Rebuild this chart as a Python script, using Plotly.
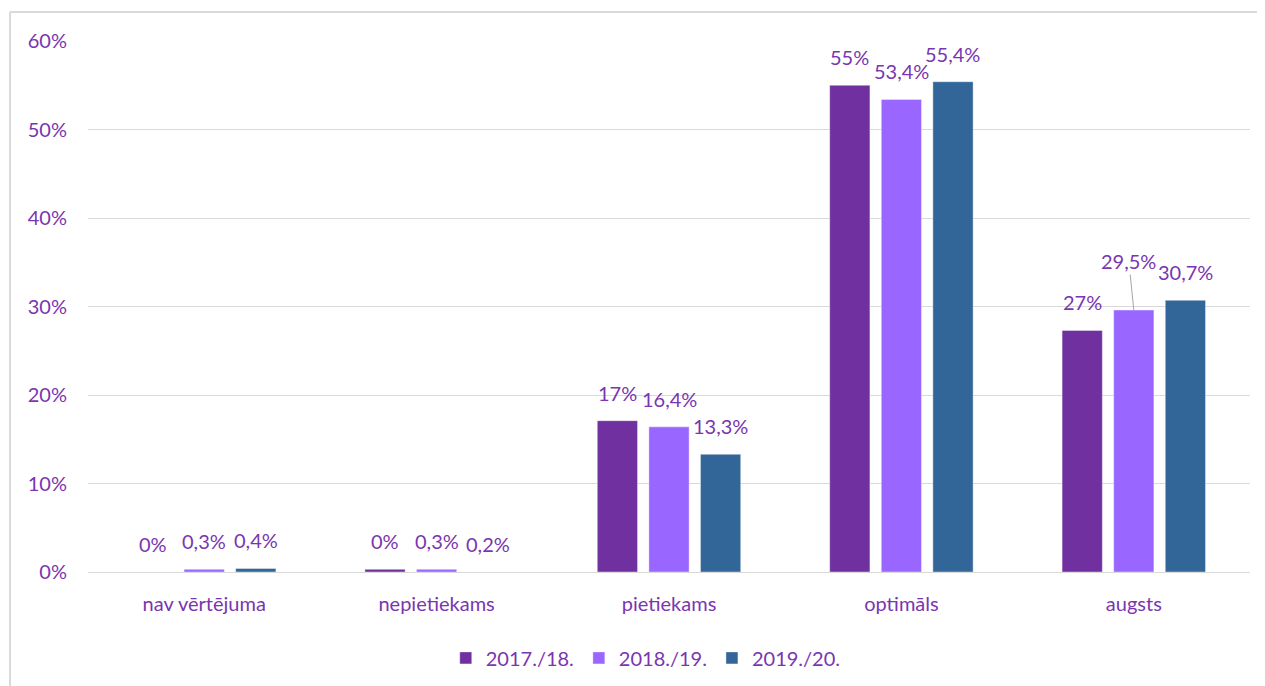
import plotly.graph_objects as go

categories = ["nav vērtējuma", "nepietiekams", "pietiekams", "optimāls", "augsts"]
series_names = ["2017./18.", "2018./19.", "2019./20."]
values_2017 = [0, 0.3, 17.1, 55.0, 27.3]
values_2018 = [0.3, 0.3, 16.4, 53.4, 29.6]
values_2019 = [0.4, 0, 13.3, 55.4, 30.7]
labels_2017 = ["0%", "0%", "17%", "55%", "27%"]
labels_2018 = ["0,3%", "0,3%", "16,4%", "53,4%", ""]
labels_2019 = ["0,4%", "0,2%", "13,3%", "55,4%", "30,7%"]
callout_label = "29,5%"
tick_vals = [0, 10, 20, 30, 40, 50, 60]
tick_text = ["0%", "10%", "20%", "30%", "40%", "50%", "60%"]

colors = ["#7030A0", "#9966FF", "#326699"]
text_color = "#7A35B0"
font_family = "Lato, 'Open Sans', sans-serif"
fs = 20

W, H = 1257, 678
ML, MR, MT, MB = 80, 15, 33, 114
BARGAP, GROUPGAP = 0.334, 0.22
plot_w = W - ML - MR
slot = plot_w / len(categories) * (1 - BARGAP) / len(series_names)

fig = go.Figure()
all_vals = [values_2017, values_2018, values_2019]
all_labs = [labels_2017, labels_2018, labels_2019]
for name, vals, col in zip(series_names, all_vals, colors):
    fig.add_trace(go.Bar(
        x=categories, y=vals, name=name,
        marker=dict(color=col, line=dict(color="rgba(255,255,255,0.4)", width=1)),
    ))

# data labels placed above each bar
for si, (vals, labs) in enumerate(zip(all_vals, all_labs)):
    for cat, v, lab in zip(categories, vals, labs):
        if not lab:
            continue
        fig.add_annotation(
            x=cat, y=v, xref="x", yref="y", text=lab, showarrow=False,
            xshift=(si - 1) * slot, yshift=14, yanchor="bottom",
            font=dict(color=text_color, size=fs, family=font_family),
        )

# callout for 2018 "augsts"
fig.add_annotation(
    x=categories[4], y=values_2018[4], xref="x", yref="y",
    text=callout_label, showarrow=True, arrowhead=0, arrowwidth=1,
    arrowcolor="#A6A6A6", ax=-5, ay=-49, xshift=0,
    font=dict(color=text_color, size=fs, family=font_family),
)

fig.update_layout(
    barmode="group", bargap=BARGAP, bargroupgap=GROUPGAP,
    width=W, height=H,
    margin=dict(l=ML, r=MR, t=MT, b=MB, autoexpand=False),
    plot_bgcolor="white", paper_bgcolor="white",
    font=dict(family=font_family, size=fs, color=text_color),
    showlegend=True,
    legend=dict(orientation="h", x=0.48, xanchor="center", y=-0.125, yanchor="top",
                font=dict(size=fs, color=text_color, family=font_family),
                itemwidth=30, tracegroupgap=0, traceorder="normal"),
)
fig.update_xaxes(showline=True, linecolor="#D9D9D9", linewidth=1, ticks="",
                 automargin=False, ticklabelstandoff=14,
                 tickfont=dict(size=fs, color=text_color, family=font_family))
fig.update_yaxes(range=[0, 60], tickvals=tick_vals, ticktext=tick_text,
                 showgrid=True, gridcolor="#D9D9D9", gridwidth=1,
                 zeroline=False, showline=False, ticklabelstandoff=20,
                 automargin=False,
                 tickfont=dict(size=fs, color=text_color, family=font_family))

# outer chart border (left and top edges visible)
fig.add_shape(type="line", xref="paper", yref="paper",
              x0=-0.0671, x1=-0.0671, y0=-0.215, y1=1.0546,
              line=dict(color="#D9D9D9", width=2))
fig.add_shape(type="line", xref="paper", yref="paper",
              x0=-0.0671, x1=1.02, y0=1.0546, y1=1.0546,
              line=dict(color="#D9D9D9", width=2))

fig.write_html("out.html")
